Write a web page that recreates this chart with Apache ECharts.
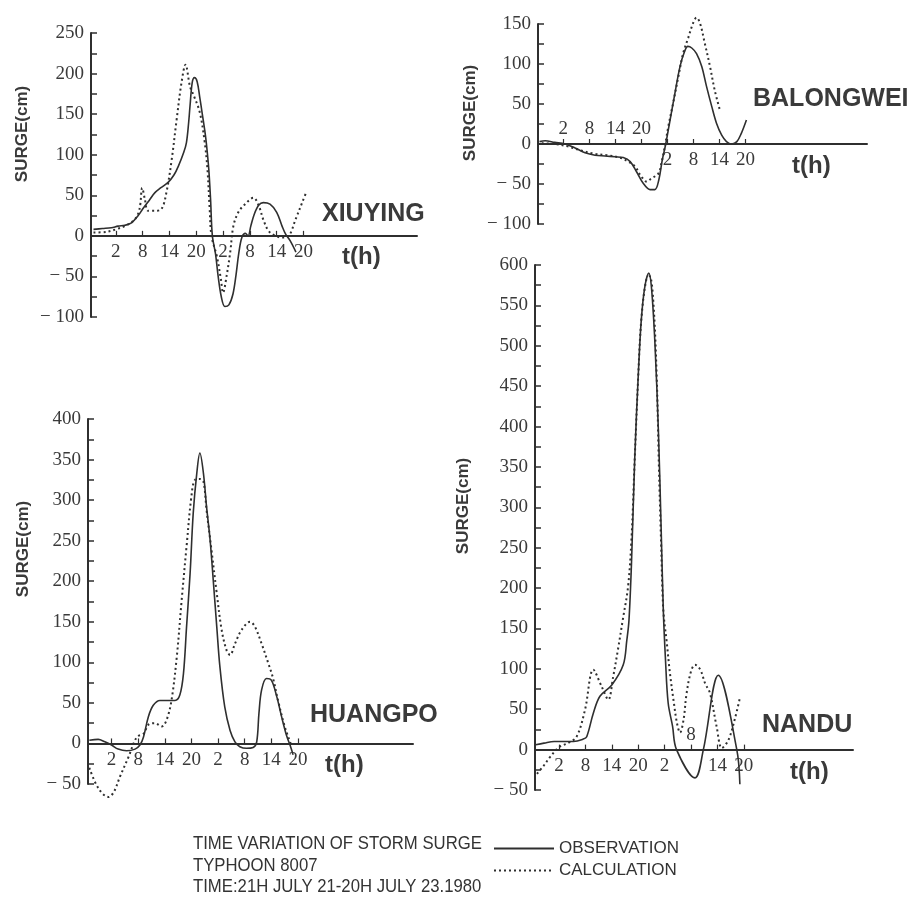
<!DOCTYPE html>
<html>
<head>
<meta charset="utf-8">
<script src="https://cdn.jsdelivr.net/npm/echarts@6/dist/echarts.min.js"></script>
<style>
html,body{margin:0;padding:0;background:#ffffff;}
#chart{width:914px;height:899px;}
</style>
</head>
<body>
<div id="chart"></div>
<script>
// Time axis: hours after 21H July 21, 1980
var tickHours = [5, 11, 17, 23, 29, 35, 41, 47];

// XIUYING
var xiuyingObsHours = [0,2,4,5.5,7,8.5,10,11,12.5,13.7,15,16.7,18,19,20.2,20.8,21.3,21.6,22.1,22.6,23.2,23.8,24.3,24.9,25.3,25.8,26.2,26.6,27.3,27.9,28.6,29.4,30.3,31.2,31.9,32.5,33.2,34,34.6,35.2,36,37,38,39.5,41,42.2,43,44,45.3];
var xiuyingObsSurge = [8,9,10,12,13,16,25,33,44,53,59,66,75,86,103,115,140,160,189,195,190,170,152,130,112,82,45,0,-22,-50,-75,-87,-85,-72,-48,-22,-2,3,0,12,27,38,41,39,29,12,2,-6,-20];
var xiuyingCalHours = [0,3,5,7,9.2,10.3,10.9,11.5,12.2,13.7,15.2,16.3,17.5,18.6,19.7,20.6,21.6,22.5,23.8,24.9,25.5,26,26.4,27.6,28.5,29,29.8,30.6,31.3,32.4,33.9,35.8,37,38,39.2,40.7,42.2,43.7,45.2,46.7,47.7];
var xiuyingCalSurge = [4,5,8,12,20,33,59,45,31,31,33,53,94,143,189,211,184,172,152,115,82,33,0,-25,-53,-70,-49,-20,12,29,39,47,37,20,6,0,-2,0,20,41,55];

// BALONGWEI
var balongweiObsHours = [-0.5,0.8,3,5.4,7.7,10,12.3,14.6,16.9,18.8,20.4,21.9,23.4,25,26.1,27,27.8,28.6,29.6,30.7,31.9,32.9,33.7,34.6,35.7,36.9,38,39.2,40.3,41.5,42.6,43.8,45,46,47.2];
var balongweiObsSurge = [3,4,2,0,-5,-11,-14,-15,-16,-17,-22,-35,-49,-57,-57,-45,-20,0,30,63,97,115,122,120,113,97,72,47,26,11,3,0,3,13,30];
var balongweiCalHours = [0,3,6,9,12,15,18,20,21.5,23,24.2,25.3,26.9,27.6,28.4,29.2,30.3,31.5,32.6,33.8,34.9,35.7,36.5,37.6,38.8,39.9,41.1];
var balongweiCalSurge = [1,0,-3,-8,-12,-14,-17,-22,-28,-41,-47,-43,-37,-24,-3,22,51,84,113,133,151,158,151,126,97,67,42];

// HUANGPO
var huangpoObsHours = [0,2,3.5,5,6.5,8.4,10.3,11.4,12.2,13.3,14.4,15.9,17.8,19.3,20.4,21.2,21.9,22.7,23.4,24.2,24.9,25.7,26.4,27.2,27.9,28.7,29.4,30.5,31.7,32.8,33.9,35.4,36.9,37.7,38.2,38.8,39.9,41,42.2,43.3,44.4,45.2,45.9];
var huangpoObsSurge = [4,5,2,-2,-7,-9,-7,-2,8,33,47,53,53,53,60,86,144,210,284,333,358,333,292,251,202,144,95,45,16,2,-4,-6,-5,2,37,66,80,78,58,33,10,-2,-14];
var huangpoCalHours = [0,2,4.3,5.5,6.9,8.8,10.7,12.2,13.3,14.8,16.3,17.4,18.5,19.7,20.8,21.9,23,23.8,24.9,25.7,26.4,27.5,28.7,29.8,30.9,31.7,32.8,34.3,36.2,37.3,38.8,40.3,41.4,42.5,44,45.2,45.5];
var huangpoCalSurge = [-30,-55,-66,-60,-41,-17,8,12,23,25,21,29,53,107,177,243,305,325,326,323,288,239,185,140,115,109,123,140,150,144,123,99,80,53,21,2,-2];

// NANDU
var nanduObsHours = [-0.3,1.6,3.9,5.2,8.3,10.5,11.3,12.8,14.3,17,19.6,20.4,20.9,21.5,22.2,23,23.7,24.5,25.4,26,26.8,27.6,28.2,28.7,29.2,29.8,30.8,31.7,35.9,37.8,41.2,45.4,46.1];
var nanduObsSurge = [6,8,10,10,10,13,16,45,66,80,105,135,160,235,359,462,532,573,590,573,503,392,276,173,111,58,29,0,-35,0,92,0,-43];
var nanduCalHours = [0,1.5,3,5,7,9,10.9,12.8,14.7,16.2,17.3,18.4,19.5,20.7,21.5,22.2,23,23.7,24.8,25.6,26.4,27.2,27.7,28.2,28.7,29.5,30.2,31,31.8,32.5,33.3,34,35,35.9,37.1,38.2,39.3,40.8,42,43.5,45,46.1];
var nanduCalSurge = [-30,-20,-9,3,8,16,49,99,78,62,90,124,161,202,264,359,462,532,581,586,557,462,351,256,173,132,95,62,33,21,37,70,97,105,99,82,70,29,2,12,39,64];

// Panel definitions (axis ranges and label placement)
var stationNames = ['XIUYING', 'BALONGWEI', 'HUANGPO', 'NANDU'];
var surgeMin = [-100, -100, -50, -50];
var surgeMax = [250, 150, 400, 600];
var labelsBelow = [[5,11,17,23,29,35,41,47],[29,35,41,47],[5,11,17,23,29,35,41,47],[5,11,17,23,29,41,47]];
var labelsAbove = [[],[5,11,17,23],[],[35]];

function pairs(h, v){ return h.map(function(t,i){ return [t, v[i]]; }); }

var panels = [
  {grid:{left:91, top:33, width:326, height:284}, xmin:-0.56, xmax:72.4,
   obs:pairs(xiuyingObsHours, xiuyingObsSurge), cal:pairs(xiuyingCalHours, xiuyingCalSurge)},
  {grid:{left:538, top:24, width:329, height:200}, xmin:-0.85, xmax:75,
   obs:pairs(balongweiObsHours, balongweiObsSurge), cal:pairs(balongweiCalHours, balongweiCalSurge)},
  {grid:{left:88, top:419, width:325, height:365}, xmin:-0.3, xmax:72.9,
   obs:pairs(huangpoObsHours, huangpoObsSurge), cal:pairs(huangpoCalHours, huangpoCalSurge)},
  {grid:{left:535, top:265, width:318, height:525}, xmin:-0.45, xmax:71.8,
   obs:pairs(nanduObsHours, nanduObsSurge), cal:pairs(nanduCalHours, nanduCalSurge)}
];

var ink = '#2f2f2f';
var tickFont = {fontFamily:'Liberation Serif', fontSize:19, color:'#3a3a3a'};
function hourLabel(v){ return String((21 + Math.round(v)) % 24); }

var grids = [], xAxes = [], yAxes = [], series = [];
panels.forEach(function(p, i){
  var h = p.grid.height, span = surgeMax[i] - surgeMin[i];
  // move the time axes from the grid edges onto the zero-surge line
  var bottomShift = -h * (0 - surgeMin[i]) / span;
  var topShift = -h * surgeMax[i] / span;
  grids.push(Object.assign({containLabel:false}, p.grid));
  yAxes.push({
    type:'value', gridIndex:i, min:surgeMin[i], max:surgeMax[i], interval:50,
    axisLine:{show:true, onZero:false, lineStyle:{color:ink, width:2}},
    axisTick:{show:true, inside:true, length:6, lineStyle:{color:ink, width:1.5}},
    minorTick:{show:true, splitNumber:2, length:6, lineStyle:{color:ink, width:1.5}},
    splitLine:{show:false},
    axisLabel:Object.assign({margin:7, formatter:function(v){ return v < 0 ? '\u2212 ' + Math.abs(v) : String(v); }}, tickFont)
  });
  xAxes.push({
    type:'value', gridIndex:i, position:'bottom', offset:bottomShift, min:p.xmin, max:p.xmax,
    axisLine:{show:true, onZero:false, lineStyle:{color:ink, width:2}},
    axisTick:{show:true, inside:true, length:5, customValues:tickHours, lineStyle:{color:ink, width:1.2}},
    splitLine:{show:false},
    axisLabel:Object.assign({show:labelsBelow[i].length>0, margin:7, customValues:labelsBelow[i], formatter:hourLabel}, tickFont)
  });
  xAxes.push({
    type:'value', gridIndex:i, position:'top', offset:topShift, min:p.xmin, max:p.xmax,
    axisLine:{show:false, onZero:false},
    axisTick:{show:false},
    splitLine:{show:false},
    axisLabel:Object.assign({show:labelsAbove[i].length>0, margin:5, customValues:labelsAbove[i].length?labelsAbove[i]:[0], formatter:hourLabel}, tickFont)
  });
  series.push({
    name:'OBSERVATION', type:'line', xAxisIndex:2*i, yAxisIndex:i, data:p.obs,
    smooth:0.35, symbol:'none', clip:false, color:ink,
    lineStyle:{color:ink, width:1.6, type:'solid'}
  });
  series.push({
    name:'CALCULATION', type:'line', xAxisIndex:2*i, yAxisIndex:i, data:p.cal,
    smooth:0.35, symbol:'none', clip:false, color:ink,
    lineStyle:{color:ink, width:2, type:[2,3]}
  });
});

var boldText = {fontFamily:'Liberation Sans', fontWeight:'bold', fill:'#3a3a3a'};
function txt(text, x, y, size){
  return {type:'text', x:x, y:y, style:Object.assign({text:text, fontSize:size, verticalAlign:'middle', align:'left'}, boldText)};
}
var surgePos = [[22,134],[470,113],[23,549],[463,506]];
var namePos = [[322,214],[753,99],[310,715],[762,725]];
var thPos = [[342,257],[792,166],[325,765],[790,772]];
var graphics = [];
surgePos.forEach(function(p){
  graphics.push({type:'text', x:p[0], y:p[1], rotation:Math.PI/2,
    style:Object.assign({text:'SURGE(cm)', fontSize:17, align:'center', verticalAlign:'middle'}, boldText)});
});
namePos.forEach(function(p, i){ graphics.push(txt(stationNames[i], p[0], p[1], 25)); });
thPos.forEach(function(p){ graphics.push(txt('t(h)', p[0], p[1], 24)); });

['TIME VARIATION OF STORM SURGE', 'TYPHOON 8007', 'TIME:21H JULY 21-20H JULY 23.1980'].forEach(function(s, k){
  graphics.push({type:'text', x:193, y:844 + k*21.5, scaleX:0.88,
    style:{text:s, verticalAlign:'middle', fontFamily:'Liberation Sans', fontSize:19, fill:'#333333'}});
});

var chart = echarts.init(document.getElementById('chart'), null, {renderer:'canvas'});
chart.setOption({
  animation:false,
  backgroundColor:'#ffffff',
  grid:grids,
  xAxis:xAxes,
  yAxis:yAxes,
  series:series,
  legend:{
    data:['OBSERVATION','CALCULATION'], orient:'vertical', left:488, top:834,
    itemWidth:60, itemHeight:12, itemGap:3, selectedMode:false,
    itemStyle:{opacity:0},
    textStyle:{fontFamily:'Liberation Sans', fontSize:17, color:'#333333', lineHeight:19}
  },
  graphic:graphics
});
</script>
</body>
</html>
